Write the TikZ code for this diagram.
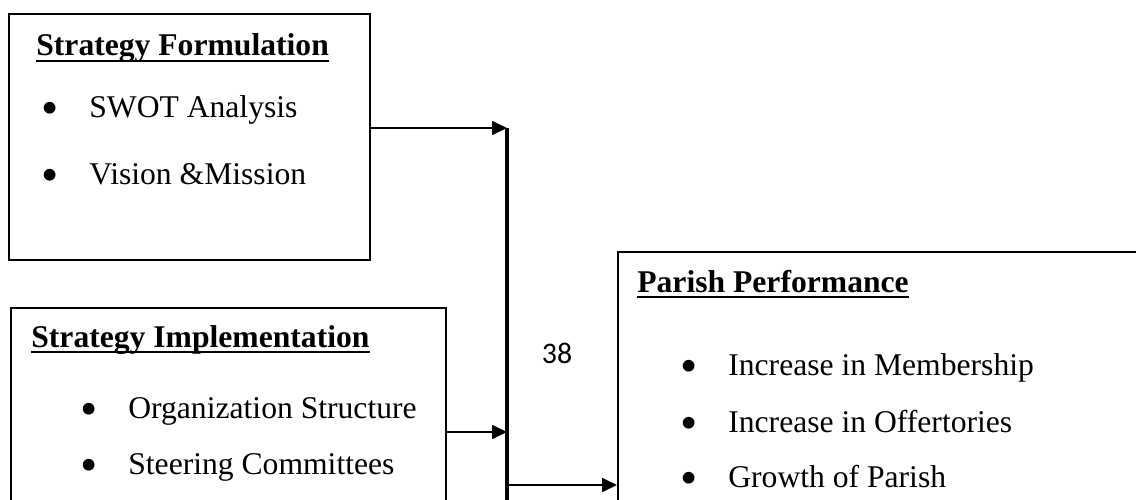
\documentclass[tikz,border=0pt]{standalone}
\usepackage{fontspec}
\setmainfont{Liberation Serif}
\newfontfamily\pagenumfont{Carlito}
\usetikzlibrary{arrows.meta}
\newcommand{\blt}[1]{\makebox[.96cm][l]{\smash{\raisebox{-4pt}{\fontsize{28}{28}\selectfont\textbullet}}}#1}
\newcommand{\hdline}[1]{\setbox0\hbox{#1}\rlap{\rule[-3.5pt]{\wd0}{1pt}}\box0}
\tikzset{
  box/.style={draw, line width=1.1pt, inner sep=0pt, anchor=north west},
  head/.style={anchor=base west, inner sep=0pt, font=\fontsize{18}{20}\selectfont\bfseries},
  item/.style={anchor=base west, inner sep=0pt, font=\fontsize{18}{20}\selectfont},
  arr/.style={line width=1pt, -{Triangle[length=.3cm,width=.28cm]}},
}
\begin{document}
\begin{tikzpicture}[x=.02cm, y=-.02cm]
\useasboundingbox (0,0) rectangle (1136,500);
\clip (0,0) rectangle (1136,500);
% boxes
\node[box, minimum width=7.22cm, minimum height=4.92cm] (form) at (8,13) {};
\node[box, minimum width=8.7cm, minimum height=5.2cm] (impl) at (10,307) {};
\node[box, minimum width=10.9cm, minimum height=6cm] (perf) at (617,251) {};
% texts
\node[head] (formh) at (36,56) {\hdline{Strategy Formulation}};
\foreach \t/\y [count=\i] in {SWOT Analysis/117, Vision \&Mission/184}
  \node[item] (f\i) at (41,\y) {\blt{\t}};
\node[head] (implh) at (31,347) {\hdline{Strategy Implementation}};
\foreach \t/\y [count=\i] in {Organization Structure/418, Steering Committees/474}
  \node[item] (m\i) at (80,\y) {\blt{\t}};
\node[head] (perfh) at (637,292) {\hdline{Parish Performance}};
\foreach \t/\y [count=\i] in {Increase in Membership/375, Increase in Offertories/432, Growth of Parish/487}
  \node[item] (p\i) at (680,\y) {\blt{\t}};
\node[font=\pagenumfont\fontsize{17}{20}\selectfont] (pg) at (557,353) {38};
% connectors
\coordinate (j1) at (507,128);
\coordinate (j2) at (507,432);
\coordinate (j3) at (507,485);
\coordinate (jend) at (507,510);
\draw[line width=1.9pt] (j1) -- (jend);
\draw[arr] (form.east |- j1) -- (j1);
\draw[arr] (impl.east |- j2) -- (j2);
\draw[arr] (j3) -- (perf.west |- j3);
\end{tikzpicture}
\end{document}
